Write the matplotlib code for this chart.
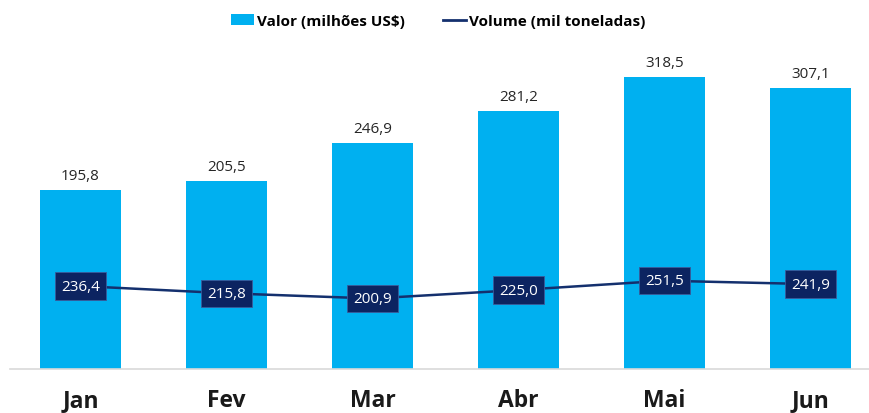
import matplotlib
matplotlib.use("Agg")
import matplotlib.pyplot as plt
from matplotlib.patches import Patch
from matplotlib.lines import Line2D

months = ["Jan", "Fev", "Mar", "Abr", "Mai", "Jun"]
valor = [195.8, 205.5, 246.9, 281.2, 318.5, 307.1]
volume = [236.4, 215.8, 200.9, 225.0, 251.5, 241.9]

bar_color = "#00B0F0"
line_color = "#14306E"
box_color = "#0C2461"

plt.rcParams['font.family'] = ['Open Sans', 'DejaVu Sans']

W, H = 870, 414
fig = plt.figure(figsize=(W/100, H/100), dpi=100)
left, right, bottom, top = 10, 870, 370, 40
ax = fig.add_axes([left/W, (H-bottom)/H, (right-left)/W, (bottom-top)/H])
x = list(range(len(months)))
ax.bar(x, valor, width=0.555, color=bar_color, zorder=2)
ax.set_xlim(-0.483, 5.407)
ax.set_ylim(0, (bottom-top)/0.916)
for xi, v in zip(x, valor):
    ax.annotate(f"{v:.1f}".replace(".", ","), (xi, v), xytext=(0, 5),
                textcoords="offset points", ha="center", va="bottom",
                fontsize=11, color="#262626")
for s in ["top", "right", "left"]:
    ax.spines[s].set_visible(False)
ax.spines["bottom"].set_color("#D9D9D9")
ax.spines["bottom"].set_linewidth(1.2)
ax.set_yticks([])
ax.set_xticks(x)
ax.set_xticklabels(months, fontsize=16.5, fontweight="bold", color="#1a1a1a")
ax.tick_params(axis="x", length=0, pad=14)

ax2 = ax.twinx()
ax2.set_ylim(0, (bottom-top)/0.351)
ax2.plot(x, volume, color=line_color, linewidth=1.8, zorder=3)
for xi, v in zip(x, volume):
    ax2.text(xi, v, f"{v:.1f}".replace(".", ","), ha="center", va="center",
             fontsize=11, color="white", zorder=4,
             bbox=dict(boxstyle="square,pad=0.4", facecolor=box_color,
                       edgecolor="#3a5a9a", linewidth=0.6))
ax2.set_yticks([])
for s in ["top", "right", "left", "bottom"]:
    ax2.spines[s].set_visible(False)

handles = [Patch(facecolor=bar_color, label="Valor (milhões US$)"),
           Line2D([0], [0], color=line_color, linewidth=2, label="Volume (mil toneladas)")]
fig.legend(handles=handles, loc="center", bbox_to_anchor=(438/W, 1 - 22/H), ncol=2,
           frameon=False, prop={"weight": "bold", "size": 11}, handlelength=1.5,
           handletextpad=0.2, columnspacing=2.5)

fig.savefig("out.png", dpi=100)
